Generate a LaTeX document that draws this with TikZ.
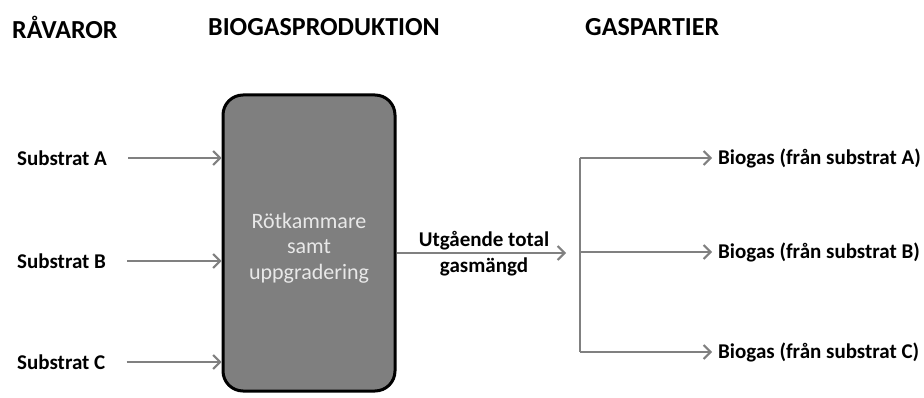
\documentclass[tikz,border=0pt]{standalone}
\usepackage{fontspec}
\setmainfont{Carlito}
\usetikzlibrary{arrows.meta,positioning}
\definecolor{flowgray}{RGB}{128,128,128}
\definecolor{tankgray}{RGB}{127,127,127}
\definecolor{tanktext}{RGB}{232,232,232}

\begin{document}
\begin{tikzpicture}[x=1pt,y=-1pt,
      every node/.style={font=\bfseries\fontsize{21}{26}\selectfont,inner sep=0pt},
      head/.style={anchor=west,font=\bfseries\fontsize{26}{30}\selectfont},
      flow/.style={draw=flowgray,line width=2pt,-{Straight Barb[length=7pt,width=14pt,line width=2pt]}},
      bus/.style={draw=flowgray,line width=2pt},
      tank/.style={draw=black,line width=3pt,fill=tankgray,rounded corners=20pt,
        minimum width=172pt,minimum height=296pt},
      tanklabel/.style={text=tanktext,align=center,font=\fontsize{22}{25.5}\selectfont}]
    \useasboundingbox (0,0) rectangle (924,398);
    % column headers
    \node[head] (hraw) at (12,27) {RÅVAROR};
    \node[head] (hprod) at (208,27) {BIOGASPRODUKTION};
    \node[head] (hgas) at (585,27) {GASPARTIER};
    % digester
    \node[tank] (tank) at (309,243) {};
    \node[tanklabel] (tanktxt) at (309,248) {Rötkammare\\samt\\uppgradering};
    \foreach \s/\y in {A/158,B/261,C/362} {
      \node[anchor=west] (sub\s) at (17,\y) {Substrat \s};
      \draw[flow] ([xshift=21pt]sub\s.east) -- (tank.west |- sub\s.east);
    }
    % output and split
    \coordinate (split) at (580,253);
    \draw[flow] (tank.east |- split) -- ([xshift=-14pt]split);
    \node[align=center] (total) at (484,254) {Utgående total\\gasmängd};
    \foreach \s/\y in {A/158,B/252,C/352} {
      \node[anchor=west] (gas\s) at (718,\y) {Biogas (från substrat \s)};
      \draw[flow] (split |- gas\s.west) -- ([xshift=-6pt]gas\s.west);
    }
    \draw[bus] (split |- gasA.west) -- (split |- gasC.west);
  \end{tikzpicture}
\end{document}
